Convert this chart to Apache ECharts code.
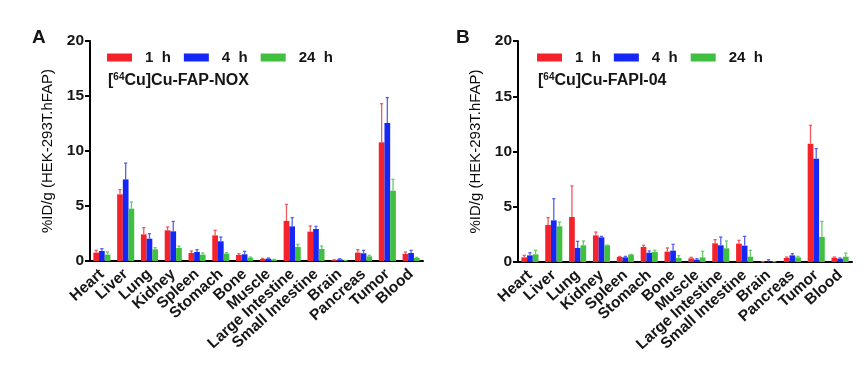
<!DOCTYPE html>
<html>
<head>
<meta charset="utf-8">
<script src="https://cdn.jsdelivr.net/npm/echarts@6/dist/echarts.min.js"></script>
<style>
html,body{margin:0;padding:0;background:#fff;}
#c{width:863px;height:365px;}
</style>
</head>
<body>
<div id="c"></div>
<script>
// ---- data ----
const organs = ['Heart','Liver','Lung','Kidney','Spleen','Stomach','Bone','Muscle','Large Intestine','Small Intestine','Brain','Pancreas','Tumor','Blood'];
const timeNames = ['1 h','4 h','24 h'];
const yTicks = [0, 5, 10, 15, 20];

// Panel A: [64Cu]Cu-FAP-NOX  (mean, SD)
const noxMean1h  = [0.76, 6.06, 2.42, 2.79, 0.73, 2.33, 0.55, 0.18, 3.64, 2.67, 0.09, 0.76, 10.79, 0.64];
const noxSd1h    = [0.21, 0.42, 0.61, 0.30, 0.18, 0.46, 0.12, 0.06, 1.51, 0.51, 0.03, 0.27, 3.51, 0.18];
const noxMean4h  = [0.91, 7.42, 2.03, 2.70, 0.82, 1.79, 0.61, 0.21, 3.15, 2.91, 0.15, 0.70, 12.55, 0.73];
const noxSd4h    = [0.21, 1.48, 0.45, 0.90, 0.21, 0.39, 0.27, 0.06, 0.79, 0.24, 0.06, 0.27, 2.30, 0.24];
const noxMean24h = [0.58, 4.76, 1.06, 1.18, 0.58, 0.67, 0.30, 0.12, 1.27, 1.09, 0.03, 0.42, 6.39, 0.27];
const noxSd24h   = [0.24, 0.60, 0.15, 0.18, 0.15, 0.09, 0.06, 0.03, 0.25, 0.27, 0.02, 0.10, 1.03, 0.06];

// Panel B: [64Cu]Cu-FAPI-04  (mean, SD)
const fapiMean1h  = [0.42, 3.35, 4.07, 2.41, 0.45, 1.36, 0.94, 0.33, 1.69, 1.66, 0.02, 0.36, 10.70, 0.39];
const fapiSd1h    = [0.18, 0.66, 2.81, 0.30, 0.05, 0.15, 0.33, 0.09, 0.33, 0.30, 0.01, 0.09, 1.67, 0.06];
const fapiMean4h  = [0.60, 3.77, 1.27, 2.23, 0.42, 0.84, 1.03, 0.21, 1.51, 1.48, 0.03, 0.60, 9.35, 0.30];
const fapiSd4h    = [0.24, 1.96, 0.60, 0.09, 0.09, 0.16, 0.57, 0.09, 0.75, 0.84, 0.18, 0.15, 0.91, 0.06];
const fapiMean24h = [0.69, 3.23, 1.51, 1.51, 0.66, 0.90, 0.36, 0.42, 1.24, 0.48, 0.03, 0.42, 2.26, 0.48];
const fapiSd24h   = [0.37, 0.39, 0.39, 0.02, 0.03, 0.16, 0.21, 0.55, 0.66, 0.58, 0.01, 0.09, 1.42, 0.33];

// ---- styles ----
const FONT = '"Liberation Sans", Arial, sans-serif';
const BAR_COLORS = ['#f4232b', '#1527f4', '#40bf40'];
const ERR_COLORS = ['#f05a5f', '#5560f2', '#6cca6c'];
const BAR_W = 5.7;
const TXT = '#161616';

const chart = echarts.init(document.getElementById('c'));

function xAxisCfg(gi) {
  return {
    type: 'category', gridIndex: gi, data: organs,
    axisLine: { lineStyle: { color: '#000', width: 2 } },
    axisTick: { alignWithLabel: true, length: 4, lineStyle: { color: '#000', width: 1.5 } },
    axisLabel: { interval: 0, rotate: 42, margin: 11, color: TXT, fontFamily: FONT, fontWeight: 'bold', fontSize: 15.5 }
  };
}
function yAxisCfg(gi) {
  return {
    type: 'value', gridIndex: gi, min: yTicks[0], max: yTicks[yTicks.length - 1], interval: 5,
    name: '%ID/g (HEK-293T.hFAP)', nameLocation: 'middle', nameGap: 35,
    nameTextStyle: { color: '#0a0a0a', fontFamily: FONT, fontSize: 15 },
    axisLine: { show: true, lineStyle: { color: '#000', width: 2 } },
    axisTick: { show: true, length: 5, lineStyle: { color: '#000', width: 2 } },
    splitLine: { show: false },
    axisLabel: { color: TXT, fontFamily: FONT, fontWeight: 'bold', fontSize: 15.5, margin: 6 }
  };
}
function barSeries(gi, k, vals) {
  return {
    type: 'bar', name: timeNames[k], xAxisIndex: gi, yAxisIndex: gi,
    data: vals, barWidth: BAR_W, barGap: '0%',
    itemStyle: { color: BAR_COLORS[k] }, z: 2, silent: true
  };
}
function errSeries(gi, k, means, sds) {
  const off = (k - 1) * BAR_W;
  return {
    type: 'custom', name: 'err' + gi + k, xAxisIndex: gi, yAxisIndex: gi, z: 3, silent: true,
    data: means.map((m, i) => [i, m, m + sds[i]]),
    encode: { x: 0, y: 2 },
    renderItem: function (params, api) {
      const b = api.coord([api.value(0), api.value(1)]);
      const t = api.coord([api.value(0), api.value(2)]);
      const x = b[0] + off;
      const st = { stroke: ERR_COLORS[k], lineWidth: 1.3 };
      return { type: 'group', children: [
        { type: 'line', shape: { x1: x, y1: b[1], x2: x, y2: t[1] }, style: st },
        { type: 'line', shape: { x1: x - 1.6, y1: t[1], x2: x + 1.6, y2: t[1] }, style: st }
      ]};
    }
  };
}
function legendCfg(left) {
  return {
    left: left, top: 45, icon: 'rect', itemWidth: 25, itemHeight: 8, itemGap: 13,
    data: timeNames, selectedMode: false,
    formatter: n => n.replace(' ', '  '),
    textStyle: { color: TXT, fontFamily: FONT, fontWeight: 'bold', fontSize: 15, padding: [0, 0, 0, 8] }
  };
}
function titleCfg(left, label) {
  return {
    left: left, top: 67,
    text: '{s|[}{sup|64}{s|Cu]' + label + '}',
    textStyle: {
      rich: {
        s: { fontFamily: FONT, fontWeight: 'bold', fontSize: 16, color: TXT, lineHeight: 18 },
        sup: { fontFamily: FONT, fontWeight: 'bold', fontSize: 10, color: TXT, verticalAlign: 'top', lineHeight: 10 }
      }
    }
  };
}

const option = {
  animation: false,
  backgroundColor: '#fff',
  title: [
    { left: 27, top: 23, text: 'A', textStyle: { fontFamily: FONT, fontWeight: 'bold', fontSize: 19, color: TXT } },
    { left: 451, top: 23, text: 'B', textStyle: { fontFamily: FONT, fontWeight: 'bold', fontSize: 19, color: TXT } },
    titleCfg(103, 'Cu-FAP-NOX'),
    titleCfg(533, 'Cu-FAPI-04')
  ],
  legend: [legendCfg(102), legendCfg(532)],
  grid: [
    { left: 90, top: 41, width: 333, height: 220 },
    { left: 518, top: 41, width: 334, height: 221 }
  ],
  xAxis: [xAxisCfg(0), xAxisCfg(1)],
  yAxis: [yAxisCfg(0), yAxisCfg(1)],
  series: [
    barSeries(0, 0, noxMean1h), barSeries(0, 1, noxMean4h), barSeries(0, 2, noxMean24h),
    barSeries(1, 0, fapiMean1h), barSeries(1, 1, fapiMean4h), barSeries(1, 2, fapiMean24h),
    errSeries(0, 0, noxMean1h, noxSd1h), errSeries(0, 1, noxMean4h, noxSd4h), errSeries(0, 2, noxMean24h, noxSd24h),
    errSeries(1, 0, fapiMean1h, fapiSd1h), errSeries(1, 1, fapiMean4h, fapiSd4h), errSeries(1, 2, fapiMean24h, fapiSd24h)
  ]
};
chart.setOption(option);
</script>
</body>
</html>
